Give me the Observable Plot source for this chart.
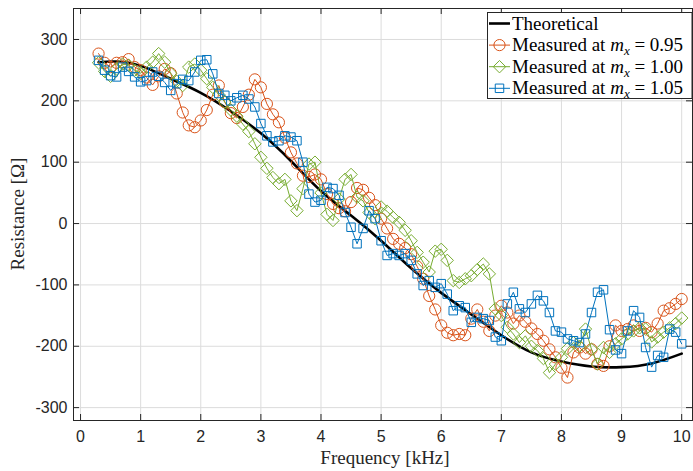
<!DOCTYPE html>
<html><head><meta charset="utf-8">
<script src="https://cdn.jsdelivr.net/npm/d3@7"></script>
<script src="https://cdn.jsdelivr.net/npm/@observablehq/plot@0.6"></script>
<style>body{margin:0;background:#fff} #chart{width:693px;height:471px}</style>
</head><body><div id="chart"></div>
<script>
// ---------- data ----------
const freq = [0.3,0.4,0.5,0.6,0.7,0.8,0.9,1.0,
 1.1,1.2,1.3,1.4,1.5,1.6,1.7,1.8,1.9,2.0,
 2.1,2.2,2.3,2.4,2.5,2.6,2.7,2.8,2.9,3.0,
 3.1,3.2,3.3,3.4,3.5,3.6,3.7,3.8,3.9,4.0,
 4.1,4.2,4.3,4.4,4.5,4.6,4.7,4.8,4.9,5.0,
 5.1,5.2,5.3,5.4,5.5,5.6,5.7,5.8,5.9,6.0,
 6.1,6.2,6.3,6.4,6.5,6.6,6.7,6.8,6.9,7.0,
 7.1,7.2,7.3,7.4,7.5,7.6,7.7,7.8,7.9,8.0,
 8.1,8.2,8.3,8.4,8.5,8.6,8.7,8.8,8.9,9.0,
 9.1,9.2,9.3,9.4,9.5,9.6,9.7,9.8,9.9,10.0];

const measured095 = [277,262,255,262,263,268,255,250,
 238,226,240,252,245,212,181,160,157,168,
 185,210,225,198,180,172,190,210,235,222,
 195,178,165,140,116,98,78,76,80,72,
 48,32,25,20,35,58,55,42,30,8,
 -8,-25,-33,-40,-50,-70,-90,-118,-140,-166,
 -178,-182,-180,-182,-155,-140,-160,-175,-150,-134,
 -145,-163,-150,-160,-171,-180,-191,-205,-218,-235,
 -251,-210,-202,-212,-205,-229,-232,-200,-166,-175,
 -172,-166,-175,-170,-177,-163,-142,-138,-131,-123];

const measured100 = [262,248,240,252,260,258,250,245,
 255,263,277,263,245,232,225,255,260,250,
 236,222,210,198,185,175,162,150,130,108,
 90,75,65,72,37,21,57,97,100,50,
 15,5,40,72,80,43,37,18,8,27,
 20,10,2,-11,-28,-47,-63,-79,-45,-42,
 -60,-93,-96,-90,-85,-75,-66,-82,-139,-150,
 -169,-180,-194,-183,-200,-207,-220,-243,-229,-218,
 -204,-194,-200,-172,-205,-229,-202,-210,-196,-188,
 -180,-175,-170,-172,-193,-185,-177,-170,-163,-154];

const measured105 = [266,250,241,239,255,248,239,231,
 233,247,240,230,217,228,235,233,247,266,
 267,244,212,209,200,205,209,203,190,163,
 143,133,135,143,141,135,100,48,35,38,
 59,57,46,18,-6,-33,-8,21,8,-28,
 -52,-49,-52,-49,-60,-82,-101,-93,-104,-98,
 -115,-142,-134,-137,-161,-153,-155,-158,-185,-191,
 -131,-112,-139,-145,-131,-117,-126,-145,-175,-177,
 -188,-191,-194,-180,-145,-112,-108,-173,-206,-212,
 -175,-142,-153,-202,-234,-215,-218,-172,-177,-196];

const theoFreq = [0.3,0.6,1.0,1.5,2.0,2.5,3.0,3.5,4.0,4.5,5.0,5.5,6.0,6.5,7.0,7.5,8.0,8.5,9.0,9.5,10.0];
const theoR    = [263,264,257,236,213,183,147,102,53,13,-28,-73,-113,-148,-182,-210,-225,-233,-234,-228,-212];

const xTicks = [0,1,2,3,4,5,6,7,8,9,10];
const yTicks = [-300,-200,-100,0,100,200,300];
const seriesLabels = ["Theoretical","0.95","1.00","1.05"];
const colors = ["#000000","#D95319","#77AC30","#0072BD"];
const symbols = ["circle","diamond2","square2"];

// ---------- layout ----------
const W = 693, H = 471;
const mL = 73, mT = 8, mR = 1, mB = 51;
const xDom = [-0.117, 10.18];
const yDom = [-321, 350.5];
const pxPerY = (H - mT - mB) / (yDom[1] - yDom[0]);
const pxPerX = (W - mL - mR) / (xDom[1] - xDom[0]);
const tickLen = 6;

const theo = theoFreq.map((f, i) => ({f, r: theoR[i]}));
const sets = [measured095, measured100, measured105].map(arr => freq.map((f, i) => ({f, r: arr[i]})));

const markR = [5.6, 5.6, 5.4];
const measuredMarks = sets.flatMap((data, k) => [
  Plot.line(data, {x: "f", y: "r", stroke: colors[k+1], strokeWidth: 1}),
  Plot.dot(data, {x: "f", y: "r", symbol: () => symbols[k], stroke: colors[k+1], fill: "none", strokeWidth: 1, r: markR[k]})
]);

const sansFont = "'Liberation Sans', Arial, Helvetica, sans-serif";
const serifFont = "'Liberation Serif', 'Times New Roman', serif";

const plot = Plot.plot({
  width: W, height: H,
  marginLeft: mL, marginTop: mT, marginRight: mR, marginBottom: mB,
  style: {fontFamily: sansFont, fontSize: "16px", background: "#fff", color: "#262626", overflow: "visible"},
  x: {domain: xDom},
  y: {domain: yDom},
  marks: [
    Plot.gridX(xTicks, {stroke: "#dcdcdc", strokeOpacity: 1, strokeWidth: 1}),
    Plot.gridY(yTicks, {stroke: "#dcdcdc", strokeOpacity: 1, strokeWidth: 1}),
    Plot.line(theo, {x: "f", y: "r", stroke: colors[0], strokeWidth: 2.6, curve: "natural"}),
    ...measuredMarks,
    // inward ticks
    Plot.ruleX(xTicks, {y1: yDom[0], y2: yDom[0] + tickLen / pxPerY, stroke: "#262626"}),
    Plot.ruleX(xTicks, {y1: yDom[1], y2: yDom[1] - tickLen / pxPerY, stroke: "#262626"}),
    Plot.ruleY(yTicks, {x1: xDom[0], x2: xDom[0] + tickLen / pxPerX, stroke: "#262626"}),
    Plot.ruleY(yTicks, {x1: xDom[1], x2: xDom[1] - tickLen / pxPerX, stroke: "#262626"}),
    Plot.frame({stroke: "#262626", strokeWidth: 1}),
    Plot.axisX(xTicks, {anchor: "bottom", tickSize: 0, tickPadding: 10, label: null, fill: "#262626", fontSize: 16, tickFormat: d => String(d)}),
    Plot.axisY(yTicks, {anchor: "left", tickSize: 0, tickPadding: 6, label: null, fill: "#262626", fontSize: 16, tickFormat: d => String(d)})
  ]
});

document.getElementById("chart").appendChild(plot);

// ---------- axis titles & legend ----------
const svg = d3.select(plot);
svg.append("text")
  .attr("x", 385).attr("y", 464)
  .attr("text-anchor", "middle")
  .attr("font-family", serifFont).attr("font-size", 19).attr("fill", "#262626")
  .text("Frequency [kHz]");
svg.append("text")
  .attr("transform", "translate(24,214) rotate(-90)")
  .attr("text-anchor", "middle")
  .attr("font-family", serifFont).attr("font-size", 19).attr("fill", "#262626")
  .text("Resistance [Ω]");

const lg = svg.append("g");
lg.append("rect").attr("x", 487.5).attr("y", 12.5).attr("width", 204.5).attr("height", 86)
  .attr("fill", "#fff").attr("stroke", "#262626").attr("stroke-width", 1);
const symFns = [d3.symbolCircle, d3.symbolDiamond2, d3.symbolSquare2];
seriesLabels.forEach((lab, i) => {
  const cy = 23.5 + i * 21.6;
  lg.append("line").attr("x1", 489).attr("x2", 510).attr("y1", cy).attr("y2", cy)
    .attr("stroke", colors[i]).attr("stroke-width", i === 0 ? 2.6 : 1);
  if (i > 0) {
    lg.append("path")
      .attr("d", d3.symbol(symFns[i-1], Math.PI * markR[i-1] * markR[i-1])())
      .attr("transform", `translate(499.5,${cy})`)
      .attr("fill", "none").attr("stroke", colors[i]).attr("stroke-width", 1);
  }
  const t = lg.append("text").attr("x", 512).attr("y", cy + 6)
    .attr("text-anchor", "start")
    .attr("font-family", serifFont).attr("font-size", 19).attr("fill", "#000");
  if (i === 0) {
    t.text(lab);
  } else {
    t.append("tspan").text("Measured at ");
    t.append("tspan").attr("font-style", "italic").text("m");
    t.append("tspan").attr("font-style", "italic").attr("font-size", 13).attr("dy", 4).text("x");
    t.append("tspan").attr("dy", -4).text(" = " + lab);
  }
});
</script>
</body></html>
